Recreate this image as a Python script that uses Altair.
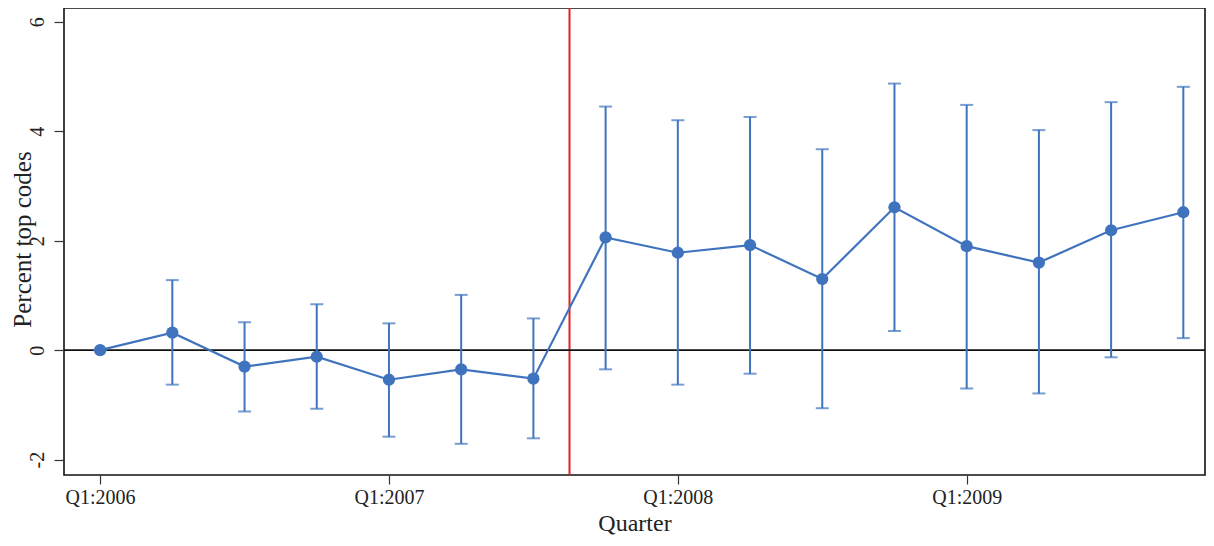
import json
import altair as alt
import pandas as pd

quarters = ["Q1:2006", "Q2:2006", "Q3:2006", "Q4:2006",
            "Q1:2007", "Q2:2007", "Q3:2007", "Q4:2007",
            "Q1:2008", "Q2:2008", "Q3:2008", "Q4:2008",
            "Q1:2009", "Q2:2009", "Q3:2009", "Q4:2009"]
estimate = [0.0, 0.32, -0.30, -0.12, -0.54, -0.35, -0.52, 2.06,
            1.78, 1.92, 1.30, 2.61, 1.90, 1.60, 2.19, 2.52]
upper = [0.0, 1.28, 0.51, 0.84, 0.49, 1.01, 0.58, 4.45,
         4.20, 4.26, 3.67, 4.87, 4.48, 4.02, 4.53, 4.81]
lower = [0.0, -0.63, -1.12, -1.07, -1.58, -1.71, -1.61, -0.35,
         -0.63, -0.43, -1.06, 0.35, -0.70, -0.79, -0.13, 0.22]
tick_labels = ["Q1:2006", "Q1:2007", "Q1:2008", "Q1:2009"]
tick_positions = [0, 4, 8, 12]
y_ticks = [-2, 0, 2, 4, 6]
treatment_x = [6.5]
zero_y = [0]

df = pd.DataFrame({
    "idx": list(range(len(quarters))),
    "quarter": quarters,
    "estimate": estimate,
    "upper": upper,
    "lower": lower,
})

BLUE = "#3f73be"
RED = "#e41f26"
FONT = "Liberation Serif"

xscale = alt.Scale(domain=[-0.5, 15.3], nice=False, zero=False)
yscale = alt.Scale(domain=[-2.28, 6.25], nice=False, zero=False)

label_expr = f"{json.dumps(tick_labels)}[indexof({json.dumps(tick_positions)}, datum.value)]"

x_axis = alt.Axis(
    values=tick_positions, labelExpr=label_expr, title="Quarter",
    grid=False, domain=False, tickSize=9, tickColor="#333", tickWidth=1.2,
    labelFont=FONT, labelFontSize=20, labelColor="#222", labelPadding=3,
    labelFlush=False, labelOverlap=False,
    titleFont=FONT, titleFontSize=24, titleFontWeight="normal", titleColor="#222",
    titleY=55, titleBaseline="alphabetic",
)
y_axis = alt.Axis(
    values=y_ticks, labelExpr="datum.value + ''", title="Percent top codes",
    grid=False, domain=False, tickSize=10, tickColor="#333", tickWidth=1.2,
    labelFont=FONT, labelFontSize=20, labelColor="#222",
    labelAngle=-90, labelAlign="center", labelBaseline="alphabetic", labelPadding=11,
    labelFlush=False, labelOverlap=False,
    titleFont=FONT, titleFontSize=25, titleFontWeight="normal", titleColor="#222",
    titleAngle=-90, titleAlign="center", titleBaseline="alphabetic",
    titleX=-34, titleY=231,
)


def X(field):
    return alt.X(field, type="quantitative", scale=xscale, axis=x_axis)


def Y(field):
    return alt.Y(field, type="quantitative", scale=yscale, axis=y_axis)


base = alt.Chart(df)

red = alt.Chart(pd.DataFrame({"idx": treatment_x})).mark_rule(
    color=RED, strokeWidth=2
).encode(x=X("idx"))

zero = alt.Chart(pd.DataFrame({"estimate": zero_y})).mark_rule(
    color="#111", strokeWidth=1.8
).encode(y=Y("estimate"))

bars = base.mark_rule(color=BLUE, strokeWidth=2).encode(
    x=X("idx"), y=Y("lower"), y2="upper:Q",
)
caps_hi = base.mark_tick(color=BLUE, orient="horizontal", size=13, thickness=2).encode(
    x=X("idx"), y=Y("upper"),
)
caps_lo = base.mark_tick(color=BLUE, orient="horizontal", size=13, thickness=2).encode(
    x=X("idx"), y=Y("lower"),
)
line = base.mark_line(color=BLUE, strokeWidth=2.2).encode(
    x=X("idx"), y=Y("estimate"),
)
points = base.mark_circle(color=BLUE, size=150, opacity=1).encode(
    x=X("idx"), y=Y("estimate"),
)

chart = alt.layer(red, zero, bars, caps_hi, caps_lo, line, points).properties(
    width=1141, height=467,
    padding={"left": 56, "top": 0, "right": 1, "bottom": 61},
    autosize=alt.AutoSizeParams(type="none"),
    background="white",
).configure_view(stroke="#111", strokeWidth=1.6)

chart.save("out.html", embed_options={"renderer": "svg", "actions": False})
